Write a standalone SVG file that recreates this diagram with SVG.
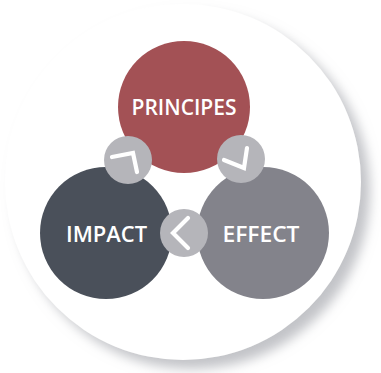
<svg xmlns="http://www.w3.org/2000/svg" width="381" height="373" viewBox="0 0 381 373">
  <defs>
    <filter id="shadow" x="-20%" y="-20%" width="140%" height="140%">
      <feGaussianBlur in="SourceAlpha" stdDeviation="6"/>
      <feOffset dx="9" dy="9" result="b"/>
      <feFlood flood-color="#9a9ca3" flood-opacity="0.6"/>
      <feComposite in2="b" operator="in"/>
      <feMerge>
        <feMergeNode/>
        <feMergeNode in="SourceGraphic"/>
      </feMerge>
    </filter>
  </defs>
  <style>
    .label { font-family: "Open Sans", Lato, "Liberation Sans", sans-serif; font-weight: 600; font-size: 21px; fill: #ffffff; text-anchor: middle; }
    .link { fill: #b5b5ba; }
    .chev { fill: none; stroke: #ffffff; stroke-width: 4.2; stroke-linecap: round; stroke-linejoin: miter; }
  </style>
  <rect width="381" height="373" fill="#ffffff"/>
  <circle cx="183" cy="182" r="178" fill="#ffffff" filter="url(#shadow)"/>
  <g id="principes">
    <circle cx="184" cy="107" r="66" fill="#a35155"/>
    <text class="label" x="184" y="114.5" textLength="105" lengthAdjust="spacingAndGlyphs">PRINCIPES</text>
  </g>
  <g id="impact">
    <circle cx="106" cy="233" r="66" fill="#4a505a"/>
    <text class="label" x="106.5" y="242" textLength="81" lengthAdjust="spacingAndGlyphs">IMPACT</text>
  </g>
  <g id="effect">
    <circle cx="263" cy="233" r="66" fill="#83838b"/>
    <text class="label" x="261" y="242" textLength="77" lengthAdjust="spacingAndGlyphs">EFFECT</text>
  </g>
  <g id="connectors">
    <g id="link-impact-principes">
      <circle class="link" cx="128" cy="160" r="24"/>
      <polyline class="chev" points="112,157 133,153 137,172"/>
    </g>
    <g id="link-principes-effect">
      <circle class="link" cx="241" cy="159" r="24"/>
      <polyline class="chev" points="224,160 244,168 247,148"/>
    </g>
    <g id="link-effect-impact">
      <circle class="link" cx="184" cy="233" r="24"/>
      <polyline class="chev" points="188,218 173,233 188,248"/>
    </g>
  </g>
</svg>
